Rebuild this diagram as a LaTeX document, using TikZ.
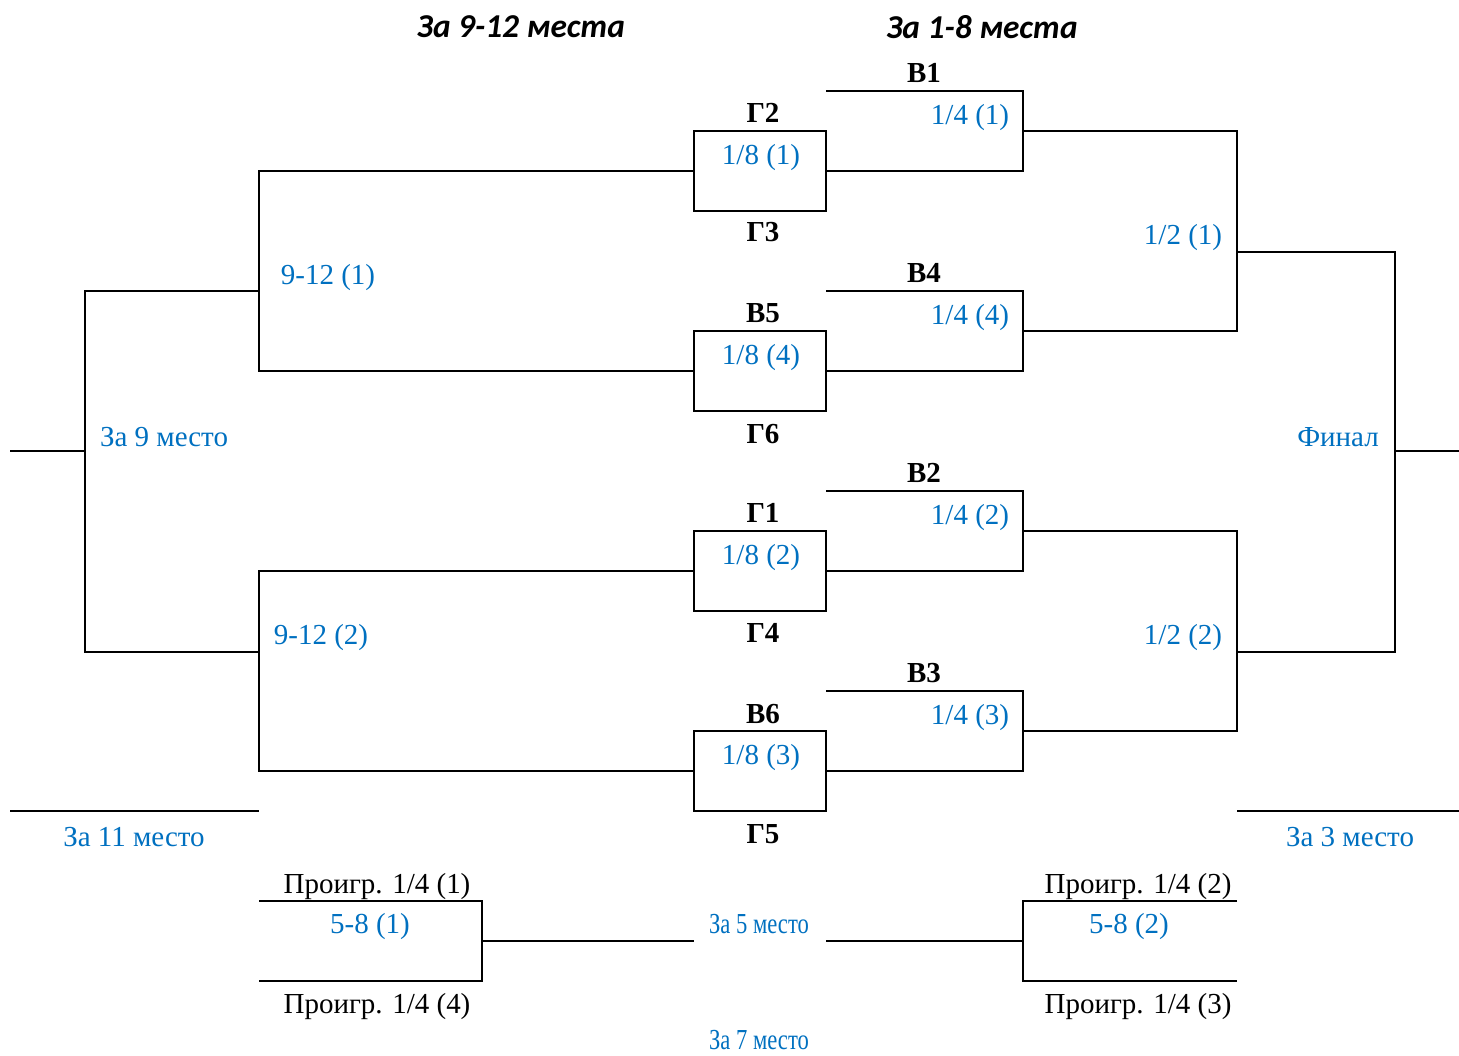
\documentclass[tikz,border=0pt]{standalone}
\usepackage{fontspec}
\setmainfont{Liberation Serif}
\newfontfamily\headfont{Carlito}
\usepackage{graphicx}
\definecolor{wblue}{RGB}{0,112,192}
\tikzset{
  lbl/.style={text=wblue, font=\fontsize{16.5}{18}\selectfont, inner sep=0pt, yshift=-0.05cm},
  plain/.style={font=\fontsize{16.5}{18}\selectfont, inner sep=0pt, yshift=-0.05cm},
  seat/.style={font=\bfseries\fontsize{16.5}{18}\selectfont, inner sep=0pt},
  head/.style={font=\headfont\bfseries\itshape\fontsize{19}{21}\selectfont, inner sep=0pt},
  matchbox/.style={draw, minimum width=2.64cm, minimum height=1.6cm, inner sep=0pt},
}
\newcommand{\narrow}[1]{\scalebox{0.78}[1]{#1}}
\begin{document}
\begin{tikzpicture}[x=0.02cm,y=-0.02cm,line width=1.1pt]
\useasboundingbox (0,0) rectangle (1459,1055);
% headings
\node[head] (h1) at (521,27) {За 9-12 места};
\node[head] (h2) at (982,27) {За 1-8 места};
% 1/8 boxes
\node[matchbox] (m1) at (760,171) {};
\node[matchbox] (m4) at (760,371) {};
\node[matchbox] (m2) at (760,571) {};
\node[matchbox] (m3) at (760,771) {};
\node[lbl] at (761,155) {1/8 (1)};
\node[lbl] at (761,355) {1/8 (4)};
\node[lbl] at (761,555) {1/8 (2)};
\node[lbl] at (761,755) {1/8 (3)};
% seeds
\node[seat] (g2) at (763,113) {Г2};
\node[seat] (g3) at (763,232) {Г3};
\node[seat] (v5) at (763,313) {В5};
\node[seat] (g6) at (763,434) {Г6};
\node[seat] (g1) at (763,513) {Г1};
\node[seat] (g4) at (763,633) {Г4};
\node[seat] (v6) at (763,714) {В6};
\node[seat] (g5) at (763,834) {Г5};
\node[seat] (v1) at (924,73) {В1};
\node[seat] (v4) at (924,273) {В4};
\node[seat] (v2) at (924,473) {В2};
\node[seat] (v3) at (924,673) {В3};
% quarter finals
\coordinate (q1) at (1023,131);
\coordinate (q4) at (1023,331);
\coordinate (q2) at (1023,531);
\coordinate (q3) at (1023,731);
\draw (m1.east) -| (1023,91) -- (826,91);
\draw (m4.east) -| (1023,291) -- (826,291);
\draw (m2.east) -| (1023,491) -- (826,491);
\draw (m3.east) -| (1023,691) -- (826,691);
\node[lbl] at (970,115) {1/4 (1)};
\node[lbl] at (970,315) {1/4 (4)};
\node[lbl] at (970,515) {1/4 (2)};
\node[lbl] at (970,715) {1/4 (3)};
% semi finals and final
\coordinate (s1) at (1237,252);
\coordinate (s2) at (1237,652);
\draw (q1) -| (s1) |- (q4);
\draw (q2) -| (s2) |- (q3);
\node[lbl] at (1183,235) {1/2 (1)};
\node[lbl] at (1183,635) {1/2 (2)};
\draw (s1) -| (1395,652) -- (s2);
\draw (1395,451) -- (1459,451);
\node[lbl] at (1338,435) {Финал};
% places 9-12
\coordinate (c1) at (259,291);
\coordinate (c2) at (259,652);
\draw (m1.west) -| (c1) |- (m4.west);
\draw (m2.west) -| (c2) |- (m3.west);
\node[lbl] at (328,275) {9-12 (1)};
\node[lbl] at (321,635) {9-12 (2)};
\draw (c1) -| (85,652) -- (c2);
\draw (85,451) -- (10,451);
\node[lbl] at (164,435) {За 9 место};
% 11th and 3rd place
\draw (10,811) -- (259,811);
\node[lbl] at (134,835) {За 11 место};
\draw (1237,811) -- (1459,811);
\node[lbl] at (1350,835) {За 3 место};
% places 5-8
\coordinate (e1) at (482,941);
\coordinate (e2) at (1023,941);
\draw (259,901) -| (e1) |- (259,981);
\draw (1237,901) -| (e2) |- (1237,981);
\node[lbl] (f5) at (759,922) {\narrow{За 5 место}};
\node[lbl] (f7) at (759,1038) {\narrow{За 7 место}};
\draw (e1) -- (694,941);
\draw (826,941) -- (e2);
\node[lbl] at (370,924) {5-8 (1)};
\node[lbl] at (1129,924) {5-8 (2)};
\node[plain] at (377,884) {Проигр. 1/4 (1)};
\node[plain] at (377,1004) {Проигр. 1/4 (4)};
\node[plain] at (1138,884) {Проигр. 1/4 (2)};
\node[plain] at (1138,1004) {Проигр. 1/4 (3)};
\end{tikzpicture}
\end{document}
